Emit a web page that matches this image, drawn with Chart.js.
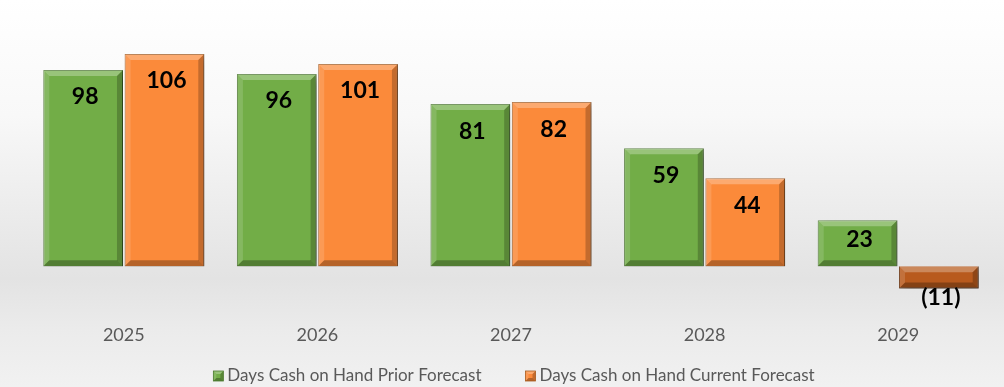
<!DOCTYPE html>
<html>
<head>
<meta charset="utf-8">
<script src="https://cdn.jsdelivr.net/npm/chart.js@4/dist/chart.umd.min.js"></script>
<style>
  html, body { margin: 0; padding: 0; background: #fff; }
  #wrap { width: 1004px; height: 387px; position: relative; }
</style>
</head>
<body>
<div id="wrap"><canvas id="days_cash_chart"></canvas></div>
<script>
//CHART DATA
const years = ['2025', '2026', '2027', '2028', '2029'];
const prior_forecast = [98, 96, 81, 59, 23];
const current_forecast = [106, 101, 82, 44, -11];
const series_names = ['Days Cash on Hand Prior Forecast', 'Days Cash on Hand Current Forecast'];

//COLOURS
const green = '#72ad47', green_dark = '#4a782d';
const orange = '#fb8a3a', orange_dark = '#a85a1c';
const brown = '#b85a1d', brown_dark = '#6e350f';
const font_family = 'Lato, "Open Sans", sans-serif';

const ctx = document.getElementById('days_cash_chart').getContext('2d');

// light grey backdrop behind everything
const backdrop = {
  id: 'backdrop',
  beforeDraw(chart) {
    const c = chart.ctx;
    const g = c.createLinearGradient(0, 0, 0, chart.height);
    g.addColorStop(0, '#ffffff');
    g.addColorStop(0.3, '#f8f8f8');
    g.addColorStop(0.72, '#e3e3e3');
    g.addColorStop(0.85, '#ebebeb');
    g.addColorStop(1, '#f1f1f1');
    c.save();
    c.fillStyle = g;
    c.fillRect(0, 0, chart.width, chart.height);
    c.restore();
  }
};

// soft drop shadow under the bars
const barShadow = {
  id: 'barShadow',
  beforeDatasetsDraw(chart) {
    const c = chart.ctx;
    c.save();
    c.shadowColor = 'rgba(0,0,0,0.35)';
    c.shadowBlur = 9;
    c.shadowOffsetX = 4;
    c.shadowOffsetY = 3;
  },
  afterDatasetsDraw(chart) {
    chart.ctx.restore();
  }
};

function bevel(c, l, t, r, btm, b) {
  c.save();
  c.fillStyle = 'rgba(255,255,255,0.28)';
  c.beginPath();
  c.moveTo(l, t); c.lineTo(r, t); c.lineTo(r - b, t + b); c.lineTo(l + b, t + b);
  c.closePath(); c.fill();
  c.fillStyle = 'rgba(255,255,255,0.14)';
  c.beginPath();
  c.moveTo(l, t); c.lineTo(l + b, t + b); c.lineTo(l + b, btm - b); c.lineTo(l, btm);
  c.closePath(); c.fill();
  c.fillStyle = 'rgba(0,0,0,0.22)';
  c.beginPath();
  c.moveTo(r, t); c.lineTo(r, btm); c.lineTo(r - b, btm - b); c.lineTo(r - b, t + b);
  c.closePath(); c.fill();
  c.fillStyle = 'rgba(0,0,0,0.28)';
  c.beginPath();
  c.moveTo(l, btm); c.lineTo(r, btm); c.lineTo(r - b, btm - b); c.lineTo(l + b, btm - b);
  c.closePath(); c.fill();
  c.restore();
}

// bevelled edges on each bar + value labels
const bevelLabels = {
  id: 'bevelLabels',
  afterDatasetsDraw(chart) {
    const c = chart.ctx;
    chart.data.datasets.forEach((ds, di) => {
      chart.getDatasetMeta(di).data.forEach((bar, i) => {
        const p = bar.getProps(['x', 'y', 'base', 'width'], true);
        const l = p.x - p.width / 2, r = p.x + p.width / 2;
        const t = Math.min(p.y, p.base), btm = Math.max(p.y, p.base);
        bevel(c, l, t, r, btm, Math.min(6, (btm - t) / 3));

        const v = ds.data[i];
        const txt = v < 0 ? '(' + Math.abs(v) + ')' : String(v);
        let ly;
        if (v < 0) ly = btm + 9;
        else ly = (btm - t) < 56 ? t + 19 : t + 27;
        c.save();
        c.font = 'bold 23px ' + font_family;
        c.fillStyle = '#000';
        c.textAlign = 'center';
        c.textBaseline = 'middle';
        c.fillText(txt, p.x + 2, ly);
        c.restore();
      });
    });
  }
};

// legend row along the bottom
const bottomLegend = {
  id: 'bottomLegend',
  afterDraw(chart) {
    const c = chart.ctx;
    const y = 376, box = 10, textGap = 4, itemGap = 44;
    const fills = [[green, green_dark], [orange, orange_dark]];
    c.save();
    c.font = '17px ' + font_family;
    const widths = series_names.map(s => c.measureText(s).width);
    const total = widths.reduce((a, w) => a + box + textGap + w, 0) + itemGap * (series_names.length - 1);
    let x = 514 - total / 2;
    series_names.forEach((name, i) => {
      c.fillStyle = fills[i][0];
      c.fillRect(x, y - box / 2, box, box);
      bevel(c, x, y - box / 2, x + box, y + box / 2, 3);
      c.strokeStyle = fills[i][1];
      c.lineWidth = 0.8;
      c.strokeRect(x, y - box / 2, box, box);
      c.fillStyle = '#595959';
      c.textAlign = 'left';
      c.textBaseline = 'middle';
      c.fillText(name, x + box + textGap, y);
      x += box + textGap + widths[i] + itemGap;
    });
    c.restore();
  }
};

new Chart(ctx, {
  type: 'bar',
  data: {
    labels: years,
    datasets: [
      {
        label: series_names[0],
        data: prior_forecast,
        backgroundColor: green,
        borderColor: green_dark,
        borderWidth: 1
      },
      {
        label: series_names[1],
        data: current_forecast,
        backgroundColor: current_forecast.map(v => v < 0 ? brown : orange),
        borderColor: current_forecast.map(v => v < 0 ? brown_dark : orange_dark),
        borderWidth: 1
      }
    ]
  },
  options: {
    responsive: true,
    maintainAspectRatio: false,
    animation: false,
    layout: { padding: { left: 27, right: 9, top: 26, bottom: 15 } },
    categoryPercentage: 0.84,
    barPercentage: 0.98,
    scales: {
      x: {
        grid: { display: false },
        border: { display: false },
        ticks: {
          padding: 26,
          color: '#595959',
          font: { family: font_family, size: 18 }
        }
      },
      y: {
        display: false,
        min: -12,
        max: 120
      }
    },
    plugins: {
      legend: { display: false },
      tooltip: { enabled: false }
    }
  },
  plugins: [backdrop, barShadow, bevelLabels, bottomLegend]
});
</script>
</body>
</html>
